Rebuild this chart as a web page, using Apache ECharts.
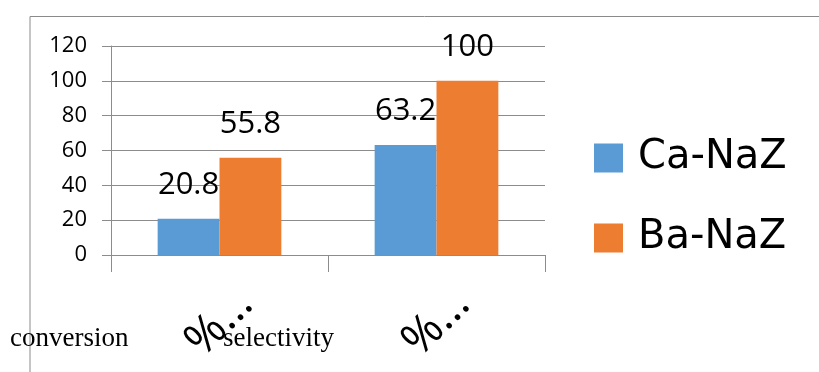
<!DOCTYPE html>
<html>
<head>
<meta charset="utf-8">
<script src="https://cdn.jsdelivr.net/npm/echarts@6/dist/echarts.min.js"></script>
<style>
  html, body { margin: 0; padding: 0; background: #fff; }
  #chart { width: 819px; height: 372px; }
</style>
</head>
<body>
<div id="chart"></div>
<script>
// Categories and values for the two catalysts
const categories = ['% conversion', '% selectivity'];
const caNaZ = [20.8, 63.2];
const baNaZ = [55.8, 100];
const seriesNames = ['Ca-NaZ', 'Ba-NaZ'];
const yTicks = { min: 0, max: 120, interval: 20 };

const sans = '"Open Sans", "Liberation Sans", sans-serif';
const wideSans = '"DejaVu Sans", "Open Sans", sans-serif';
const serif = '"Liberation Serif", "DejaVu Serif", serif';
const gridGray = '#8c8c8c';

const chart = echarts.init(document.getElementById('chart'), null, { renderer: 'canvas' });

const labelStyle = {
  show: true,
  position: 'top',
  distance: 18,
  color: '#000',
  fontFamily: sans,
  fontSize: 31
};

chart.setOption({
  animation: false,
  backgroundColor: '#fff',
  grid: { left: 111, right: 274, top: 46, bottom: 117, containLabel: false },
  legend: {
    orient: 'vertical',
    left: 594,
    top: 137,
    padding: 0,
    itemWidth: 29,
    itemHeight: 29,
    itemGap: 38,
    icon: 'rect',
    data: seriesNames,
    textStyle: { fontFamily: wideSans, fontSize: 40, color: '#000', lineHeight: 42, padding: [0, 0, 0, 10] }
  },
  xAxis: {
    type: 'category',
    data: categories,
    axisLine: { show: true, lineStyle: { color: gridGray, width: 1 } },
    axisTick: { show: true, length: 17, lineStyle: { color: gridGray } },
    axisLabel: {
      rotate: 45,
      align: 'center',
      verticalAlign: 'middle',
      margin: 68,
      color: '#000',
      fontFamily: sans,
      fontSize: 46,
      formatter: v => v.charAt(0) + '…'
    }
  },
  yAxis: {
    type: 'value',
    min: yTicks.min,
    max: yTicks.max,
    interval: yTicks.interval,
    axisLine: { show: true, lineStyle: { color: gridGray, width: 1 } },
    axisTick: { show: true, length: 9, lineStyle: { color: gridGray } },
    splitLine: { show: true, lineStyle: { color: gridGray, width: 1 } },
    axisLabel: { margin: 24, color: '#000', fontFamily: sans, fontSize: 22 }
  },
  series: [
    {
      name: seriesNames[0],
      type: 'bar',
      data: caNaZ,
      barGap: '0%',
      barCategoryGap: '43%',
      itemStyle: { color: '#5B9BD5' },
      label: labelStyle
    },
    {
      name: seriesNames[1],
      type: 'bar',
      data: baNaZ,
      barGap: '0%',
      barCategoryGap: '43%',
      itemStyle: { color: '#ED7D31' },
      label: labelStyle
    }
  ],
  graphic: [
    // page frame: top and left edges
    {
      type: 'polyline',
      silent: true,
      shape: { points: [[30, 372], [30, 16.5], [819, 16.5]] },
      style: { stroke: '#8a8a8a', lineWidth: 1, fill: null }
    },
    {
      type: 'text',
      left: 10,
      top: 325,
      style: { text: 'conversion', font: '27px ' + serif, fill: '#000' }
    },
    {
      type: 'text',
      left: 223,
      top: 325,
      style: { text: 'selectivity', font: '27px ' + serif, fill: '#000' }
    }
  ]
});
</script>
</body>
</html>
